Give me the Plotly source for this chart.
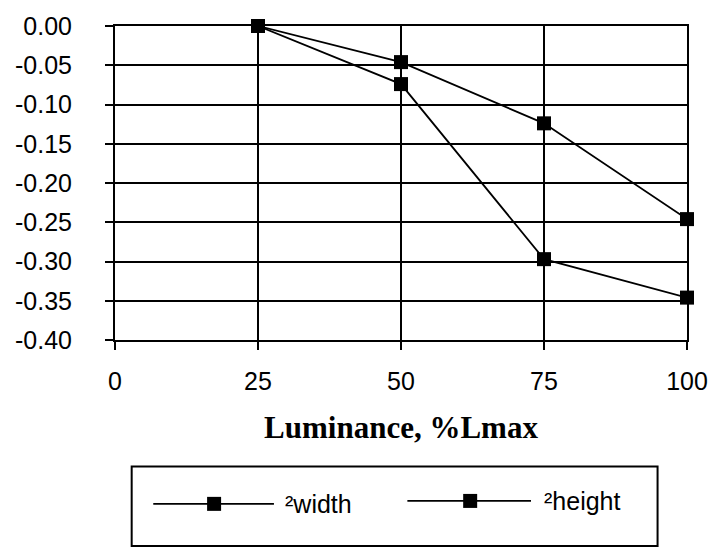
import plotly.graph_objects as go

# Luminance levels (% of Lmax) and relative changes
luminance = [25, 50, 75, 100]
d_width = [0.000, -0.046, -0.124, -0.246]
d_height = [0.000, -0.074, -0.297, -0.346]
series_names = ["\u00b2width", "\u00b2height"]

x_ticks = [0, 25, 50, 75, 100]
x_tick_text = ["0", "25", "50", "75", "100"]
y_ticks = [0.00, -0.05, -0.10, -0.15, -0.20, -0.25, -0.30, -0.35, -0.40]
y_tick_text = ["0.00", "-0.05", "-0.10", "-0.15", "-0.20", "-0.25", "-0.30", "-0.35", "-0.40"]

W, H = 720, 553
ML, MR, MT, MB = 115, 22, 20, 213
PW, PH = W - ML - MR, H - MT - MB


def px(p):
    return (p - ML) / PW


def py(p):
    return (MT + PH - p) / PH


SANS = "Liberation Sans, Arial, sans-serif"
SERIF = "Liberation Serif, Times New Roman, serif"

fig = go.Figure()
for name, vals in zip(series_names, [d_width, d_height]):
    fig.add_trace(go.Scatter(
        x=luminance, y=vals, name=name, mode="lines+markers",
        line=dict(color="black", width=1.8),
        marker=dict(symbol="square", size=14, color="black"),
        cliponaxis=False, showlegend=False,
    ))

axis_common = dict(
    showline=True, linecolor="black", linewidth=2, mirror=True,
    showgrid=True, gridcolor="black", gridwidth=2,
    zeroline=False, ticks="outside", ticklen=8, tickwidth=2, tickcolor="black",
    tickfont=dict(family=SANS, size=25, color="black"),
)

fig.update_xaxes(
    range=[0, 100], tickvals=x_ticks, ticktext=x_tick_text,
    ticklabelstandoff=10,
    title=dict(text="<b>Luminance, %Lmax</b>", standoff=22,
               font=dict(family=SERIF, size=31, color="black")),
    **axis_common,
)
fig.update_yaxes(
    range=[-0.40, 0.00], tickvals=y_ticks, ticktext=y_tick_text,
    ticklabelstandoff=28,
    **axis_common,
)

# Legend box drawn below the plot
shapes = [dict(type="rect", xref="paper", yref="paper",
               x0=px(132), x1=px(668), y0=py(550), y1=py(469),
               line=dict(color="black", width=2), fillcolor="rgba(0,0,0,0)")]
annotations = []
entries = [
    (series_names[0], 154, 277, 216, 507, 286),
    (series_names[1], 413, 539, 477, 504, 550),
]
for name, lx0, lx1, mx, ly, tx in entries:
    shapes.append(dict(type="line", xref="paper", yref="paper",
                       x0=px(lx0), x1=px(lx1), y0=py(ly), y1=py(ly),
                       line=dict(color="black", width=1.8)))
    shapes.append(dict(type="rect", xref="paper", yref="paper",
                       xsizemode="pixel", ysizemode="pixel",
                       xanchor=px(mx), yanchor=py(ly),
                       x0=-7, x1=7, y0=-7, y1=7,
                       fillcolor="black", line=dict(width=0)))
    annotations.append(dict(xref="paper", yref="paper", x=px(tx), y=py(ly),
                            xanchor="left", yanchor="middle", showarrow=False,
                            text=name, font=dict(family=SANS, size=25, color="black")))

fig.update_layout(
    width=W, height=H,
    margin=dict(l=ML, r=MR, t=MT, b=MB),
    paper_bgcolor="white", plot_bgcolor="white",
    shapes=shapes, annotations=annotations,
    showlegend=False,
)

fig.write_html("out.html")
